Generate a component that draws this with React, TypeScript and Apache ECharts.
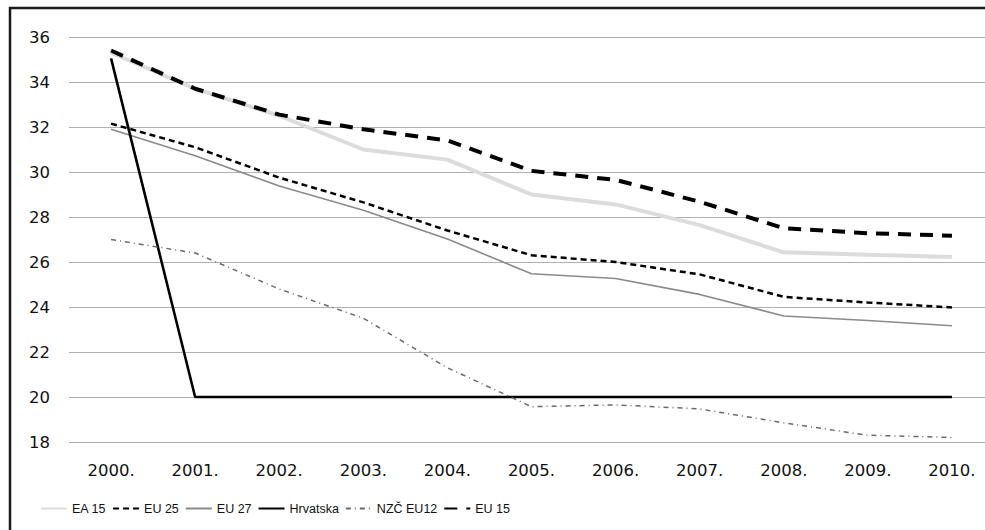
import React, { useEffect, useRef } from "react";
import * as echarts from "echarts";

const years = ["2000.", "2001.", "2002.", "2003.", "2004.", "2005.", "2006.", "2007.", "2008.", "2009.", "2010."];
const ea15 = [35.3, 33.7, 32.5, 31.0, 30.55, 29.0, 28.56, 27.64, 26.43, 26.32, 26.22];
const eu25 = [32.15, 31.1, 29.75, 28.65, 27.4, 26.3, 26.0, 25.45, 24.45, 24.2, 23.98];
const eu27 = [31.9, 30.72, 29.38, 28.3, 27.02, 25.48, 25.27, 24.56, 23.6, 23.4, 23.17];
const hrvatska = [35.05, 20, 20, 20, 20, 20, 20, 20, 20, 20, 20];
const nzcEu12 = [27.0, 26.4, 24.8, 23.5, 21.3, 19.57, 19.65, 19.47, 18.85, 18.3, 18.2];
const eu15 = [35.4, 33.7, 32.55, 31.9, 31.4, 30.05, 29.65, 28.68, 27.5, 27.28, 27.17];
const yMin = 18;
const yMax = 36;
const yStep = 2;

export default function App() {
  const ref = useRef<HTMLDivElement>(null);
  useEffect(() => {
    if (!ref.current) return;
    const chart = echarts.init(ref.current, undefined, { renderer: "svg" });
    const mk = (name: string, data: number[], lineStyle: any) => ({
      name,
      type: "line",
      data,
      symbol: "none",
      showSymbol: false,
      lineStyle,
      itemStyle: { color: lineStyle.color },
    });
    chart.setOption({
      animation: false,
      backgroundColor: "#ffffff",
      textStyle: { fontFamily: "DejaVu Sans" },
      grid: { left: 69, top: 37, width: 925, height: 405, containLabel: false, outerBoundsMode: "none" },
      xAxis: {
        type: "category",
        data: years,
        boundaryGap: true,
        axisLine: { show: false },
        axisTick: { show: false },
        axisLabel: { color: "#111", fontSize: 16.5, fontFamily: "DejaVu Sans", margin: 20 },
      },
      yAxis: {
        type: "value",
        min: yMin,
        max: yMax,
        interval: yStep,
        axisLine: { show: false },
        axisTick: { show: false },
        axisLabel: { color: "#111", fontSize: 16.5, fontFamily: "DejaVu Sans", margin: 19 },
        splitLine: { lineStyle: { color: "#b0b0b0", width: 1 } },
      },
      legend: {
        left: 35,
        top: 497,
        itemWidth: 26,
        itemHeight: 14,
        itemGap: 6,
        itemStyle: { opacity: 0 },
        textStyle: { color: "#111", fontSize: 12.5, fontFamily: "Liberation Sans" },
        data: ["EA 15", "EU 25", "EU 27", "Hrvatska", "NZČ EU12", "EU 15"],
      },
      graphic: [
        {
          type: "rect",
          shape: { x: 10, y: 8, width: 1000, height: 600 },
          style: { fill: "none", stroke: "#1a1a1a", lineWidth: 2.5 },
          silent: true,
        },
      ],
      series: [
        mk("EA 15", ea15, { color: "#dcdcdc", width: 4 }),
        mk("EU 25", eu25, { color: "#000000", width: 2.5, type: [6, 4] }),
        mk("EU 27", eu27, { color: "#8a8a8a", width: 1.6 }),
        mk("Hrvatska", hrvatska, { color: "#000000", width: 2.6 }),
        mk("NZČ EU12", nzcEu12, { color: "#6a6a6a", width: 1.5, type: [5, 4, 1, 4] }),
        mk("EU 15", eu15, { color: "#000000", width: 4, type: [13, 9] }),
      ],
    });
    return () => chart.dispose();
  }, []);
  return (
    <div
      ref={ref}
      style={{ position: "fixed", left: 0, top: 0, width: 985, height: 530, background: "#fff" }}
    />
  );
}
